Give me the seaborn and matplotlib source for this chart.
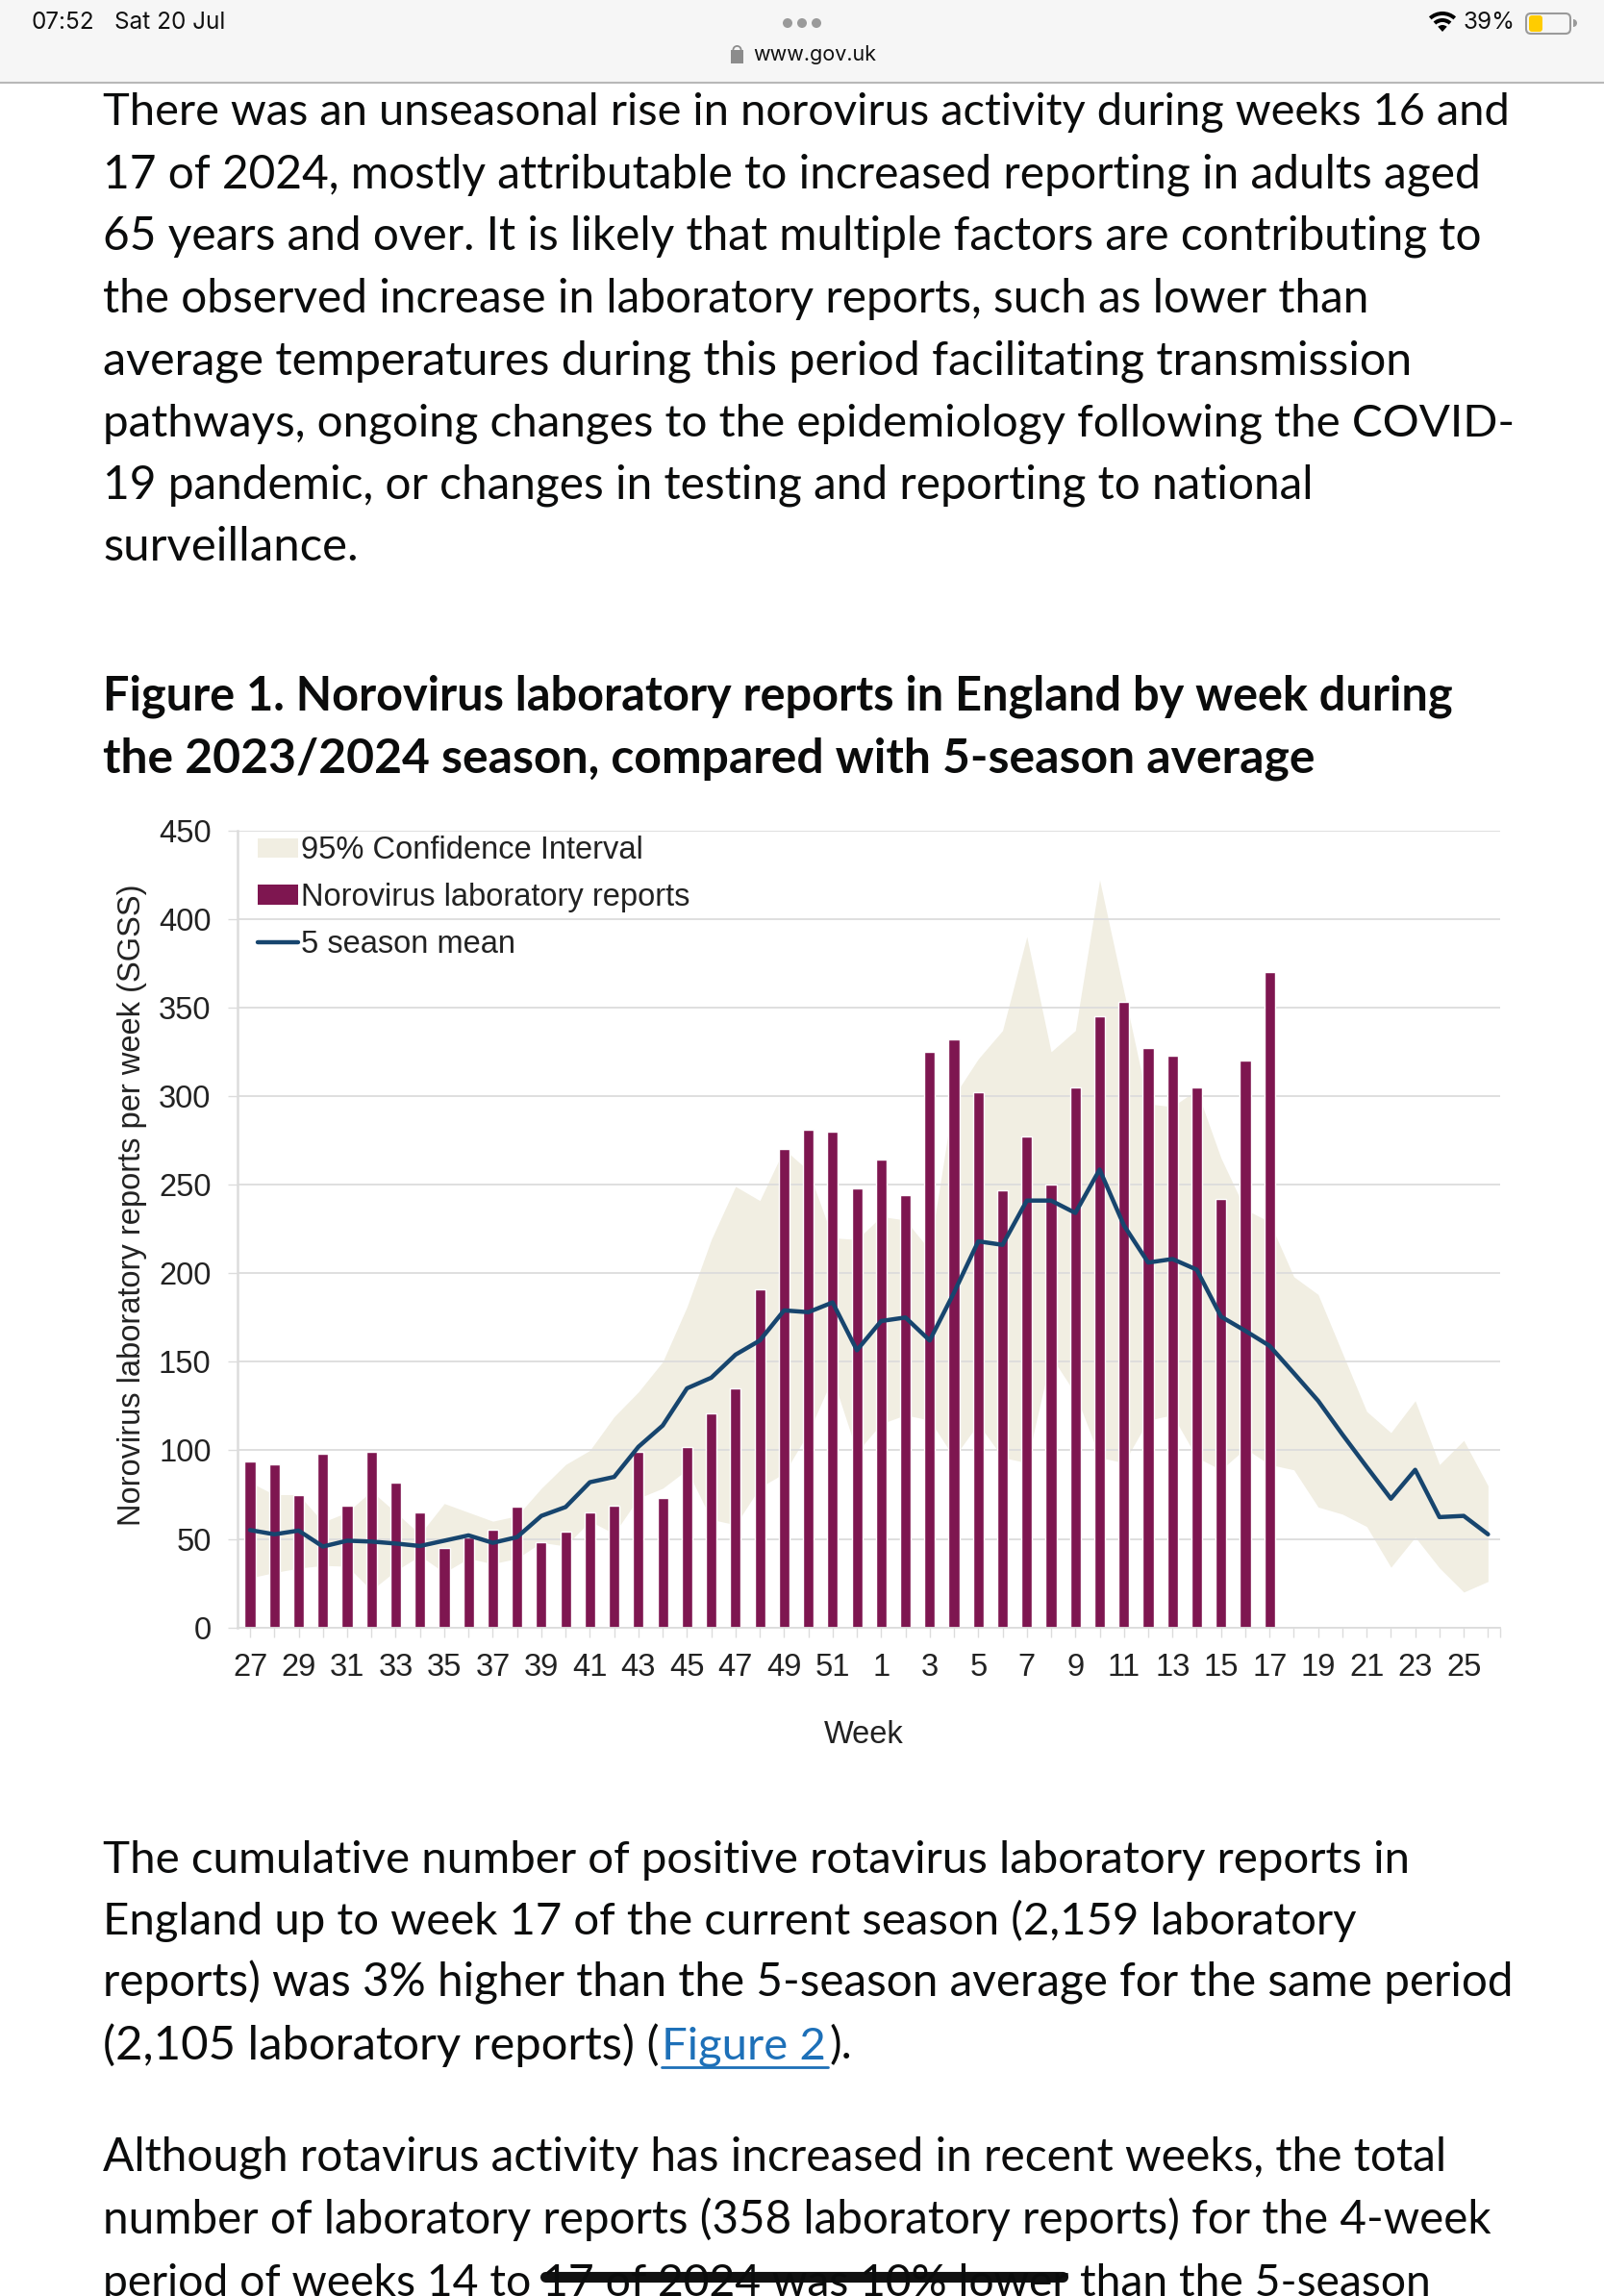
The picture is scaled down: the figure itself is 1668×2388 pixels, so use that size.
import numpy as np
import pandas as pd
import seaborn as sns
import matplotlib.pyplot as plt
from matplotlib.patches import Circle, FancyBboxPatch, Patch, Rectangle, Wedge
from matplotlib.lines import Line2D

weeks = [27, 28, 29, 30, 31, 32, 33, 34, 35, 36, 37, 38, 39, 40, 41, 42, 43, 44, 45, 46, 47, 48, 49, 50, 51, 52,
         1, 2, 3, 4, 5, 6, 7, 8, 9, 10, 11, 12, 13, 14, 15, 16, 17, 18, 19, 20, 21, 22, 23, 24, 25, 26]
reports = [94, 92, 75, 98, 69, 99, 82, 65, 45, 51, 55, 68, 48, 54, 65, 69, 99, 73, 102, 121, 135, 191, 270, 281, 280, 248,
           264, 244, 325, 332, 302, 247, 277, 250, 305, 345, 353, 327, 323, 305, 242, 320, 370,
           None, None, None, None, None, None, None, None, None]
season_mean = [55, 52.6, 54.7, 45.7, 49, 48.5, 47.4, 46, 49, 52, 47.8, 51, 63, 68, 82, 85, 102, 114, 135, 141, 154, 162,
               179, 178, 183.5, 156.5, 173, 175, 162, 189, 218, 216, 241, 241, 234, 258.5, 227, 206, 208, 202, 175.5,
               167.5, 159, 143.6, 128, 109, 90.7, 72.7, 89, 62.3, 63, 52.6]
ci_upper = [82, 75, 75, 59.5, 65, 77, 65, 52.6, 70, 65, 60, 63, 78.6, 92, 100, 119, 133, 150, 181, 219, 249, 241,
            270, 258, 220, 219, 232, 230, 213, 300, 321, 337, 390, 325, 337, 422, 359, 295.6, 294, 303.5, 265,
            236, 229, 198, 188, 155, 122, 110, 128, 92, 105.6, 80]
ci_lower = [28, 31, 33.5, 35, 34.6, 21, 32, 40.5, 31, 39, 36, 39, 48, 46, 60, 53, 73, 78.6, 89, 61, 58, 79,
            87, 110, 141, 99, 115, 120, 117, 96, 115, 96, 93, 153, 132, 96, 93, 117, 120, 96, 89,
            101, 92, 89, 68, 64, 57, 34, 51, 33.6, 20, 26]
y_ticks = [0, 50, 100, 150, 200, 250, 300, 350, 400, 450]

body_top = ["There was an unseasonal rise in norovirus activity during weeks 16 and",
            "17 of 2024, mostly attributable to increased reporting in adults aged",
            "65 years and over. It is likely that multiple factors are contributing to",
            "the observed increase in laboratory reports, such as lower than",
            "average temperatures during this period facilitating transmission",
            "pathways, ongoing changes to the epidemiology following the COVID-",
            "19 pandemic, or changes in testing and reporting to national",
            "surveillance."]
body_top_ends = [1573, 1544, 1543, 1427, 1473, 1576, 1369, 373]
fig_title = ["Figure 1. Norovirus laboratory reports in England by week during",
             "the 2023/2024 season, compared with 5-season average"]
fig_title_ends = [1511, 1370]
body_mid = ["The cumulative number of positive rotavirus laboratory reports in",
            "England up to week 17 of the current season (2,159 laboratory",
            "reports) was 3% higher than the 5-season average for the same period"]
body_mid_ends = [1467, 1411, 1576]
body_end = ["Although rotavirus activity has increased in recent weeks, the total",
            "number of laboratory reports (358 laboratory reports) for the 4-week",
            "period of weeks 14 to 17 of 2024 was 10% lower than the 5-season"]
body_end_ends = [1508, 1555, 1493]

BAR = '#7e1650'
LINE = '#17456e'
BAND = '#f1eee2'
GRID = '#dcdcdc'
INK = '#0b0c0c'
W, H = 1668, 2388
BODY_FONT = 'Lato'
BODY_SIZE = 34
CHART_FONT = 'Liberation Sans'
CHART_SIZE = 23.5

sns.set_theme(style='white')
plt.rcParams['font.family'] = [CHART_FONT, 'DejaVu Sans']

df = pd.DataFrame({'pos': np.arange(len(weeks)), 'reports': reports, 'mean': season_mean,
                   'upper': ci_upper, 'lower': ci_lower})
df['reports'] = df['reports'].astype(float)

fig = plt.figure(figsize=(W / 100, H / 100), dpi=100, facecolor='white')

# Page around the chart, in pixels
page = fig.add_axes([0, 0, 1, 1])
page.set_xlim(0, W)
page.set_ylim(H, 0)
page.axis('off')


def fitted_line(y, line, end, weight='normal'):
    # Lato runs a little off the page font, so size each line to its right edge
    t = page.text(107, y, line, fontsize=BODY_SIZE, family=BODY_FONT, weight=weight, color=INK, va='baseline')
    width = t.get_window_extent(fig.canvas.get_renderer()).width
    t.set_fontsize(BODY_SIZE * (end - 107) / width)


page.add_patch(Rectangle((0, 0), W, 86, color='#f6f6f6', lw=0))
page.plot([0, W], [86, 86], color='#b8b8b8', lw=1.5)
page.text(33, 24, '07:52', fontsize=17.5, family='Inter', color='#111111', va='center')
page.text(119, 24, 'Sat 20 Jul', fontsize=17.5, family='Inter', color='#111111', va='center')
for cx in (819, 834, 849):
    page.add_patch(Circle((cx, 24), 5, color='#9a9a9a', lw=0))
page.add_patch(Rectangle((760, 52), 13, 14, color='#8c8c8c', lw=0))
page.add_patch(Wedge((766.5, 52), 5, 180, 360, width=1.8, color='#8c8c8c', lw=0))
page.text(783, 57, 'www.gov.uk', fontsize=15.5, family='Inter', color='#111111', va='center')
for r, wd in ((21, 4), (14, 4), (7, 7)):
    page.add_patch(Wedge((1500, 33), r, 228, 312, width=wd, color='black', lw=0))
page.text(1522, 24, '39%', fontsize=17.5, family='Inter', color='#111111', va='center')
page.add_patch(FancyBboxPatch((1587, 14), 46, 21, boxstyle='round,pad=0,rounding_size=5', fc='none', ec='#9a9a9a', lw=1.5))
page.add_patch(FancyBboxPatch((1590, 16), 14, 17, boxstyle='round,pad=0,rounding_size=3', fc='#ffcc00', ec='none'))
page.add_patch(Wedge((1636, 24), 4, 270, 90, color='#9a9a9a', lw=0))

for i, line in enumerate(body_top):
    fitted_line(130.5 + i * 64.7, line, body_top_ends[i])
for i, line in enumerate(fig_title):
    fitted_line(738.5 + i * 64.7, line, fig_title_ends[i], weight='bold')
for i, line in enumerate(body_mid):
    fitted_line(1947.5 + i * 64.7, line, body_mid_ends[i])
fitted_line(2141.5, '(2,105 laboratory reports) (', 687)
page.text(688, 2141.5, 'Figure 2', fontsize=BODY_SIZE, family=BODY_FONT, color='#1d70b8', va='baseline')
page.plot([688, 861], [2150, 2150], color='#1d70b8', lw=2)
page.text(862, 2141.5, ').', fontsize=BODY_SIZE, family=BODY_FONT, color=INK, va='baseline')
for i, line in enumerate(body_end):
    fitted_line(2258 + i * 65, line, body_end_ends[i])
page.plot([567, 1105], [2367.5, 2367.5], color='#111111', lw=8, solid_capstyle='round')

# Chart
left, right, top, bottom = 247.4, 1560, 863.6, 1692.7
ax = fig.add_axes([left / W, 1 - bottom / H, (right - left) / W, (bottom - top) / H])
ax.patch.set_alpha(0)

ax.fill_between(df['pos'], df['lower'], df['upper'], color=BAND, lw=0, zorder=0.5)
sns.barplot(data=df, x='pos', y='reports', color=BAR, width=0.44, saturation=1, ax=ax, zorder=2, errorbar=None)
sns.lineplot(data=df, x='pos', y='mean', color=LINE, lw=3.2, ax=ax, zorder=3, errorbar=None)

ax.set_xlim(-0.5, len(weeks) - 0.5)
ax.set_ylim(0, 450)
ax.set_axisbelow('line')
ax.yaxis.grid(True, color=GRID, lw=1.3)
ax.xaxis.grid(False)
ax.set_yticks(y_ticks)
ax.set_xticks(df['pos'])
ax.set_xticklabels([str(w) if i % 2 == 0 else '' for i, w in enumerate(weeks)])
ax.set_xticks([len(weeks) - 0.5], minor=True)
ax.tick_params(axis='both', which='both', length=7, width=1, color=GRID, labelsize=CHART_SIZE, labelcolor='#222222', left=True, bottom=True)
ax.tick_params(axis='x', pad=12)
ax.tick_params(axis='y', pad=13)
sns.despine(ax=ax, top=True, right=True)
ax.spines['left'].set_color(GRID)
ax.spines['left'].set_linewidth(1.8)
ax.spines['bottom'].set_color(GRID)
ax.spines['bottom'].set_linewidth(1.3)

ax.set_ylabel('Norovirus laboratory reports per week (SGSS)', fontsize=CHART_SIZE, color='#222222', va='center')
ax.yaxis.set_label_coords(-0.084, 0.53)
ax.set_xlabel('Week', fontsize=CHART_SIZE, color='#222222', va='center')
ax.xaxis.set_label_coords(0.496, -0.135)

handles = [Patch(color=BAND, lw=0), Patch(color=BAR, lw=0), Line2D([0], [0], color=LINE, lw=3.2)]
labels = ['95% Confidence Interval', 'Norovirus laboratory reports', '5 season mean']
ax.legend(handles, labels, loc='upper left', bbox_to_anchor=(0.016, 0.993), frameon=False, fontsize=CHART_SIZE,
          labelcolor='#222222', handlelength=1.27, handleheight=0.6, handletextpad=0.1, labelspacing=0.55,
          borderpad=0, borderaxespad=0)

fig.savefig('out.png', dpi=100)
